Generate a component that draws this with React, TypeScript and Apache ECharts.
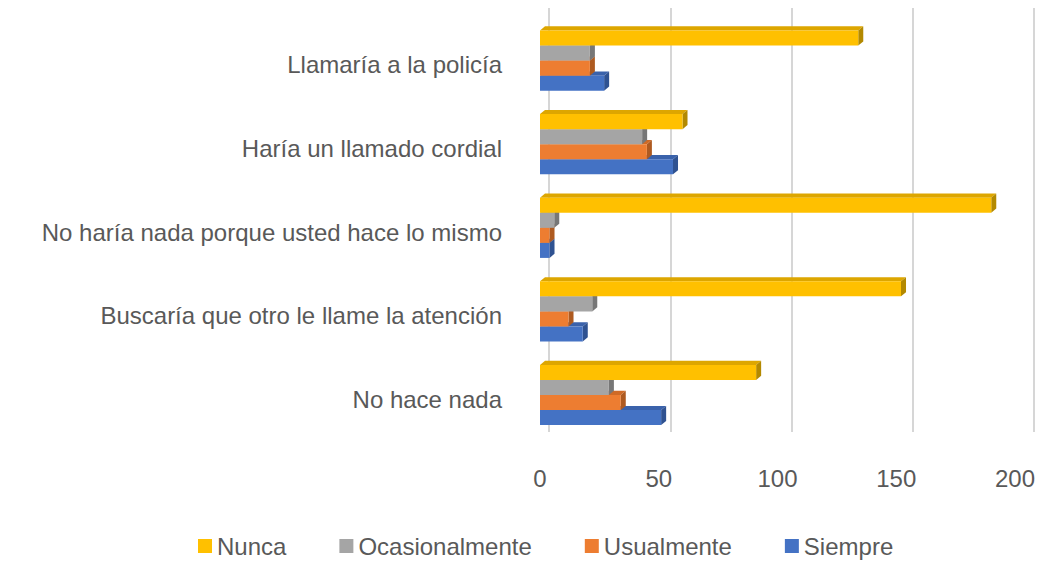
import React, { useEffect, useRef } from "react";
import * as echarts from "echarts";

const categories = [
  "No hace nada",
  "Buscaría que otro le llame la atención",
  "No haría nada porque usted hace lo mismo",
  "Haría un llamado cordial",
  "Llamaría a la policía",
];
const siempre = [51, 18, 4, 56, 27];
const usualmente = [34, 12, 4, 45, 21];
const ocasionalmente = [29, 22, 6, 43, 21];
const nunca = [91, 152, 190, 60, 134];
const legendOrder = ["Nunca", "Ocasionalmente", "Usualmente", "Siempre"];

const FONT = "Liberation Sans";
const TXT = "#595959";

function makeRender(k: number, color: string, top: string, side: string) {
  return (params: any, api: any) => {
    const v = api.value(0);
    const c = api.value(1);
    const p0 = api.coord([0, c]);
    const p1 = api.coord([v, c]);
    const band = api.size([0, 1])[1];
    const h = band * 0.18;
    const yc = p0[1] - band * 0.05;
    const y = yc + 2 * h - (k + 1) * h;
    const x0 = p0[0];
    const x1 = p1[0];
    const dx = band * 0.06;
    const dy = band * 0.05;
    return {
      type: "group",
      children: [
        {
          type: "polygon",
          shape: { points: [[x0, y], [x0 + dx, y - dy], [x1 + dx, y - dy], [x1, y]] },
          style: { fill: top },
        },
        {
          type: "polygon",
          shape: { points: [[x1, y], [x1 + dx, y - dy], [x1 + dx, y + h - dy], [x1, y + h]] },
          style: { fill: side },
        },
        {
          type: "rect",
          shape: { x: x0, y, width: Math.max(0, x1 - x0), height: h },
          style: { fill: color },
        },
      ],
    };
  };
}

const seriesDefs = [
  { name: "Siempre", values: siempre, color: "#4472C4", top: "#3A62AB", side: "#2F5291" },
  { name: "Usualmente", values: usualmente, color: "#ED7D31", top: "#CF6A26", side: "#AE5A20" },
  { name: "Ocasionalmente", values: ocasionalmente, color: "#A5A5A5", top: "#8E8E8E", side: "#777777" },
  { name: "Nunca", values: nunca, color: "#FFC000", top: "#DDA600", side: "#B38900" },
];

export default function App() {
  const ref = useRef<HTMLDivElement>(null);
  useEffect(() => {
    if (!ref.current) return;
    const chart = echarts.init(ref.current, undefined, { renderer: "svg" });
    chart.setOption({
      animation: false,
      backgroundColor: "#ffffff",
      textStyle: { fontFamily: FONT },
      grid: [
        { left: 549, right: 13, top: 8, bottom: 129 },
        { left: 540, right: 32, top: 23, bottom: 120 },
      ],
      xAxis: [
        {
          type: "value",
          gridIndex: 0,
          min: 0,
          max: 200,
          interval: 50,
          axisLabel: { show: false },
          axisLine: { show: false },
          axisTick: { show: false },
          splitLine: { show: true, lineStyle: { color: "#D6D6D6", width: 2 } },
        },
        {
          type: "value",
          gridIndex: 1,
          min: 0,
          max: 200,
          interval: 50,
          axisLine: { show: false },
          axisTick: { show: false },
          splitLine: { show: false },
          axisLabel: { fontSize: 24, color: TXT, fontFamily: FONT, margin: 25 },
        },
      ],
      yAxis: [
        {
          type: "category",
          gridIndex: 0,
          data: categories,
          show: false,
        },
        {
          type: "category",
          gridIndex: 1,
          data: categories,
          axisLine: { show: false },
          axisTick: { show: false },
          axisLabel: { fontSize: 24, color: TXT, fontFamily: FONT, margin: 38 },
        },
      ],
      legend: {
        data: legendOrder,
        left: 198,
        top: 533,
        padding: 0,
        icon: "rect",
        itemWidth: 14,
        itemHeight: 14,
        itemGap: 53,
        textStyle: { fontSize: 24, color: TXT, fontFamily: FONT, lineHeight: 26 },
      },
      series: seriesDefs.map((s, k) => ({
        type: "custom",
        name: s.name,
        xAxisIndex: 1,
        yAxisIndex: 1,
        itemStyle: { color: s.color },
        renderItem: makeRender(k, s.color, s.top, s.side),
        encode: { x: 0, y: 1 },
        data: s.values.map((v, i) => [v, i]),
      })),
    });
    return () => chart.dispose();
  }, []);
  return (
    <div
      ref={ref}
      style={{ position: "absolute", left: 0, top: 0, width: 1047, height: 561 }}
    />
  );
}
